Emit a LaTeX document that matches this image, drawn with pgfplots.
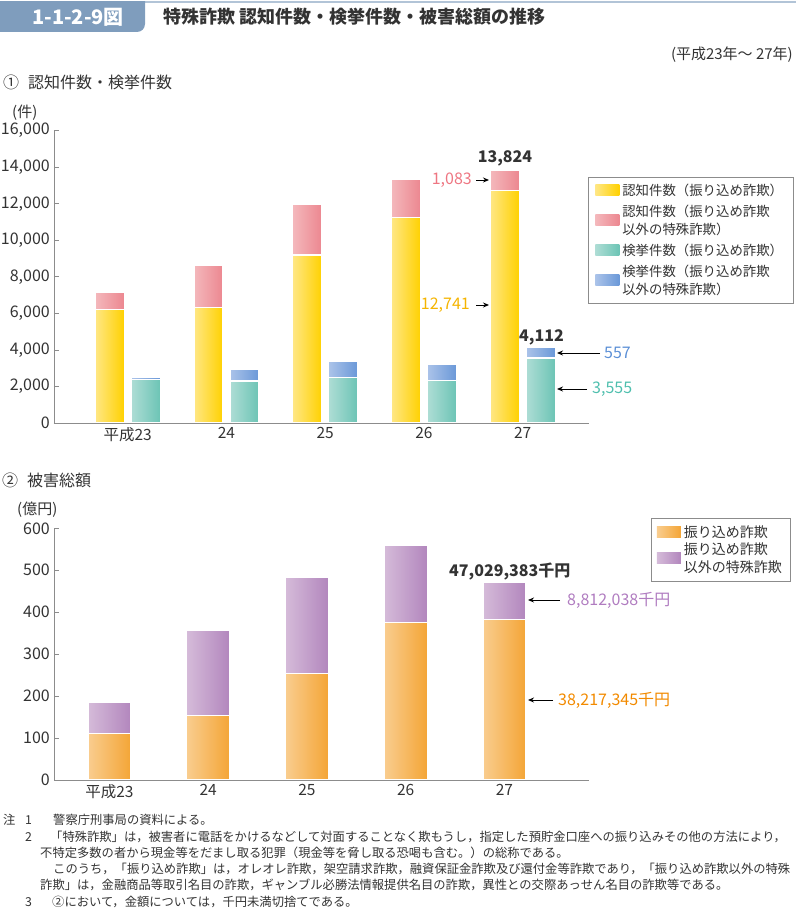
\documentclass[border=0pt]{standalone}
\usepackage{fontspec}
\setmainfont{Noto Sans CJK JP}
\usepackage{pgfplots}
\pgfplotsset{compat=1.18}
\usetikzlibrary{arrows.meta}

\definecolor{yelL}{HTML}{FFE785}
\definecolor{yelR}{HTML}{FFD100}
\definecolor{pinkL}{HTML}{F4B8BC}
\definecolor{pinkR}{HTML}{EC8790}
\definecolor{tealL}{HTML}{AEDDD5}
\definecolor{tealR}{HTML}{6CC4B5}
\definecolor{blueL}{HTML}{ABC3E9}
\definecolor{blueR}{HTML}{6A98D8}
\definecolor{oraL}{HTML}{F9CD8F}
\definecolor{oraR}{HTML}{F4A536}
\definecolor{purL}{HTML}{D5BBD9}
\definecolor{purR}{HTML}{B286BD}
\definecolor{hdr}{HTML}{7F9DBD}
\definecolor{axisgray}{HTML}{8C8C8C}
\definecolor{txt}{HTML}{333333}
\definecolor{pinkT}{HTML}{EE7682}
\definecolor{yelT}{HTML}{F5B400}
\definecolor{blueT}{HTML}{5B8FD6}
\definecolor{tealT}{HTML}{4FBFAE}
\definecolor{purT}{HTML}{B07CC0}
\definecolor{oraT}{HTML}{F28A00}

\newcommand{\fs}[2]{\fontsize{#1}{#2}\selectfont}

\pgfplotsset{
  bar yel/.style={left color=yelL, right color=yelR, draw=white, line width=1.2pt},
  bar pink/.style={left color=pinkL, right color=pinkR, draw=white, line width=1.2pt},
  bar teal/.style={left color=tealL, right color=tealR, draw=white, line width=1.2pt},
  bar blue/.style={left color=blueL, right color=blueR, draw=white, line width=1.2pt},
  bar ora/.style={left color=oraL, right color=oraR, draw=white, line width=1.2pt},
  bar pur/.style={left color=purL, right color=purR, draw=white, line width=1.2pt},
  bA/.style={ybar, bar width=29pt, bar shift=-18pt, forget plot},
  bB/.style={ybar, bar width=29pt, bar shift=18pt, forget plot},
  bC/.style={ybar, bar width=43pt, bar shift=0pt, forget plot},
  myaxis/.style={
    scale only axis, anchor=south west,
    axis x line*=bottom, axis y line*=left,
    axis line style={axisgray, line width=0.8pt, -},
    xtick={0,1,2,3,4}, xticklabels={平成23,24,25,26,27},
    xtick style={draw=none},
    tick align=inside, major tick length=5pt,
    ytick style={axisgray, line width=0.8pt},
    scaled y ticks=false,
    /pgf/number format/1000 sep={,},
    /pgf/number format/assume math mode=true,
    yticklabel style={inner sep=0pt, xshift=-4pt, font=\fs{16}{16}, text=txt},
    xticklabel style={font=\fs{15.5}{16}, text=txt, yshift=-1pt},
    axis on top,
    legend cell align=left,
  },
}

\begin{document}
\begin{tikzpicture}
\begin{scope}[x=1pt,y=-1pt]
\path[use as bounding box] (0,0) rectangle (796,909);
\end{scope}

% ---------- Chart 1: counts ----------
\begin{axis}[myaxis,
  at={(54pt,-423pt)}, width=535pt, height=292.3pt,
  xmin=-0.746, xmax=4.671, ymin=0, ymax=16000,
  ytick={0,2000,...,16000},
  legend image code/.code={\path[#1, draw=none] (0pt,-5pt) rectangle (24pt,6pt);},
  legend style={at={(0.998,0.8416)}, anchor=north west, draw=axisgray, line width=0.8pt,
    font=\fs{13.4}{18}, text=txt, inner xsep=7pt, inner ysep=5pt, row sep=4pt,
    nodes={align=left, inner ysep=2pt, inner xsep=3pt}}]
% totals (recognised: fraud + other) and (arrests: fraud + other)
\addplot[bA, bar pink] coordinates {(0,7170)};
\addplot[bA, bar pink] coordinates {(1,8650)};
\addplot[bA, bar pink] coordinates {(2,11980)};
\addplot[bA, bar pink] coordinates {(3,13340)};
\addplot[bA, bar pink] coordinates {(4,13824)};
\addplot[bA, bar yel] coordinates {(0,6200)};
\addplot[bA, bar yel] coordinates {(1,6330)};
\addplot[bA, bar yel] coordinates {(2,9200)};
\addplot[bA, bar yel] coordinates {(3,11240)};
\addplot[bA, bar yel] coordinates {(4,12741)};
\addplot[bB, bar blue] coordinates {(0,2520)};
\addplot[bB, bar blue] coordinates {(1,2960)};
\addplot[bB, bar blue] coordinates {(2,3380)};
\addplot[bB, bar blue] coordinates {(3,3210)};
\addplot[bB, bar blue] coordinates {(4,4112)};
\addplot[bB, bar teal] coordinates {(0,2390)};
\addplot[bB, bar teal] coordinates {(1,2300)};
\addplot[bB, bar teal] coordinates {(2,2500)};
\addplot[bB, bar teal] coordinates {(3,2340)};
\addplot[bB, bar teal] coordinates {(4,3555)};
\addlegendimage{bar yel}
\addlegendentry{認知件数（振り込め詐欺）}
\addlegendimage{bar pink}
\addlegendentry{認知件数（振り込め詐欺\\以外の特殊詐欺）}
\addlegendimage{bar teal}
\addlegendentry{検挙件数（振り込め詐欺）}
\addlegendimage{bar blue}
\addlegendentry{検挙件数（振り込め詐欺\\以外の特殊詐欺）}
\end{axis}

% ---------- Chart 2: damage ----------
\begin{axis}[myaxis,
  at={(54pt,-780pt)}, width=535pt, height=251.7pt,
  xmin=-0.562, xmax=4.856, ymin=0, ymax=600,
  ytick={0,100,...,600},
  legend image code/.code={\path[#1, draw=none] (0pt,-5pt) rectangle (24pt,6pt);},
  legend style={at={(1.1159,1.0409)}, anchor=north west, draw=axisgray, line width=0.8pt,
    font=\fs{14}{18}, text=txt, inner xsep=5.5pt, inner ysep=5pt, row sep=0pt,
    nodes={align=left, inner ysep=2pt, inner xsep=3pt}}]
% totals (fraud + other special fraud), then transfer fraud
\addplot[bC, bar pur] coordinates {(0,185)};
\addplot[bC, bar pur] coordinates {(1,356)};
\addplot[bC, bar pur] coordinates {(2,484)};
\addplot[bC, bar pur] coordinates {(3,560)};
\addplot[bC, bar pur] coordinates {(4,470.29)};
\addplot[bC, bar ora] coordinates {(0,110)};
\addplot[bC, bar ora] coordinates {(1,153)};
\addplot[bC, bar ora] coordinates {(2,254)};
\addplot[bC, bar ora] coordinates {(3,376)};
\addplot[bC, bar ora] coordinates {(4,382.17)};
\addlegendimage{bar ora}
\addlegendentry{振り込め詐欺}
\addlegendimage{bar pur}
\addlegendentry{振り込め詐欺\\以外の特殊詐欺}
\end{axis}

\begin{scope}[x=1pt,y=-1pt, every node/.style={inner sep=0pt, text=txt}]
% header
\fill[hdr!60] (140,1.2) rectangle (796,3.2);
\fill[hdr] (0,1.2) -- (145,1.2) -- (145,24) arc[start angle=0,end angle=90,radius=8] -- (0,32) -- cycle;
\node[anchor=west, text=white, font=\fs{20}{20}\bfseries] at (32,17) {1-1-2-9図};
\node[anchor=west, font=\fs{18}{20}\bfseries] at (163,17) {特殊詐欺 認知件数・検挙件数・被害総額の推移};
\node[anchor=east, font=\fs{15}{16}] at (793,55) {(平成23年～ 27年)};
\node[anchor=west, font=\fs{16}{18}] at (3,82) {①\hspace{9pt}認知件数・検挙件数};
\node[anchor=west, font=\fs{15}{16}] at (12,113) {(件)};
\node[anchor=west, font=\fs{16}{18}] at (2,480) {②\hspace{9pt}被害総額};
\node[anchor=west, font=\fs{15}{16}] at (17,510) {(億円)};

% chart 1 annotations
\node[font=\fs{16}{18}\bfseries] at (505,158) {13,824};
\node[anchor=east, font=\fs{16}{18}, text=pinkT] at (472,180) {1,083};
\draw[-{Stealth[length=6pt,width=5pt]}, line width=0.9pt] (476,180) -- (489,180);
\node[anchor=east, font=\fs{16}{18}, text=yelT] at (470,305) {12,741};
\draw[-{Stealth[length=6pt,width=5pt]}, line width=0.9pt] (476,305) -- (489,305);
\node[font=\fs{16}{18}\bfseries] at (541.5,337) {4,112};
\node[anchor=west, font=\fs{16}{18}, text=blueT] at (604,353) {557};
\draw[-{Stealth[length=6pt,width=5pt]}, line width=0.9pt] (600,353) -- (557,353);
\node[anchor=west, font=\fs{16}{18}, text=tealT] at (592,389) {3,555};
\draw[-{Stealth[length=6pt,width=5pt]}, line width=0.9pt] (587,389) -- (557,389);

% chart 2 annotations
\node[anchor=west, font=\fs{16}{18}\bfseries] at (449,572) {47,029,383千円};
\node[anchor=west, font=\fs{16}{18}, text=purT] at (567,600) {8,812,038千円};
\draw[-{Stealth[length=6pt,width=5pt]}, line width=0.9pt] (560,600) -- (528,600);
\node[anchor=west, font=\fs{16}{18}, text=oraT] at (558,700) {38,217,345千円};
\draw[-{Stealth[length=6pt,width=5pt]}, line width=0.9pt] (553,700) -- (528,700);

% notes
\begin{scope}[every node/.append style={anchor=west, font=\fs{12.3}{14}}]
\node at (3,820) {注};
\node at (25,820) {1};
\node at (53,820) {警察庁刑事局の資料による。};
\node at (25,837) {2};
\node at (50,837) {「特殊詐欺」は，被害者に電話をかけるなどして対面することなく欺もうし，指定した預貯金口座への振り込みその他の方法により，};
\node at (40,853) {不特定多数の者から現金等をだまし取る犯罪（現金等を脅し取る恐喝も含む。）の総称である。};
\node at (53,869) {このうち，「振り込め詐欺」は，オレオレ詐欺，架空請求詐欺，融資保証金詐欺及び還付金等詐欺であり，「振り込め詐欺以外の特殊};
\node at (40,885) {詐欺」は，金融商品等取引名目の詐欺，ギャンブル必勝法情報提供名目の詐欺，異性との交際あっせん名目の詐欺等である。};
\node at (25,902) {3};
\node at (52,902) {②において，金額については，千円未満切捨てである。};
\end{scope}
\end{scope}
\end{tikzpicture}
\end{document}
